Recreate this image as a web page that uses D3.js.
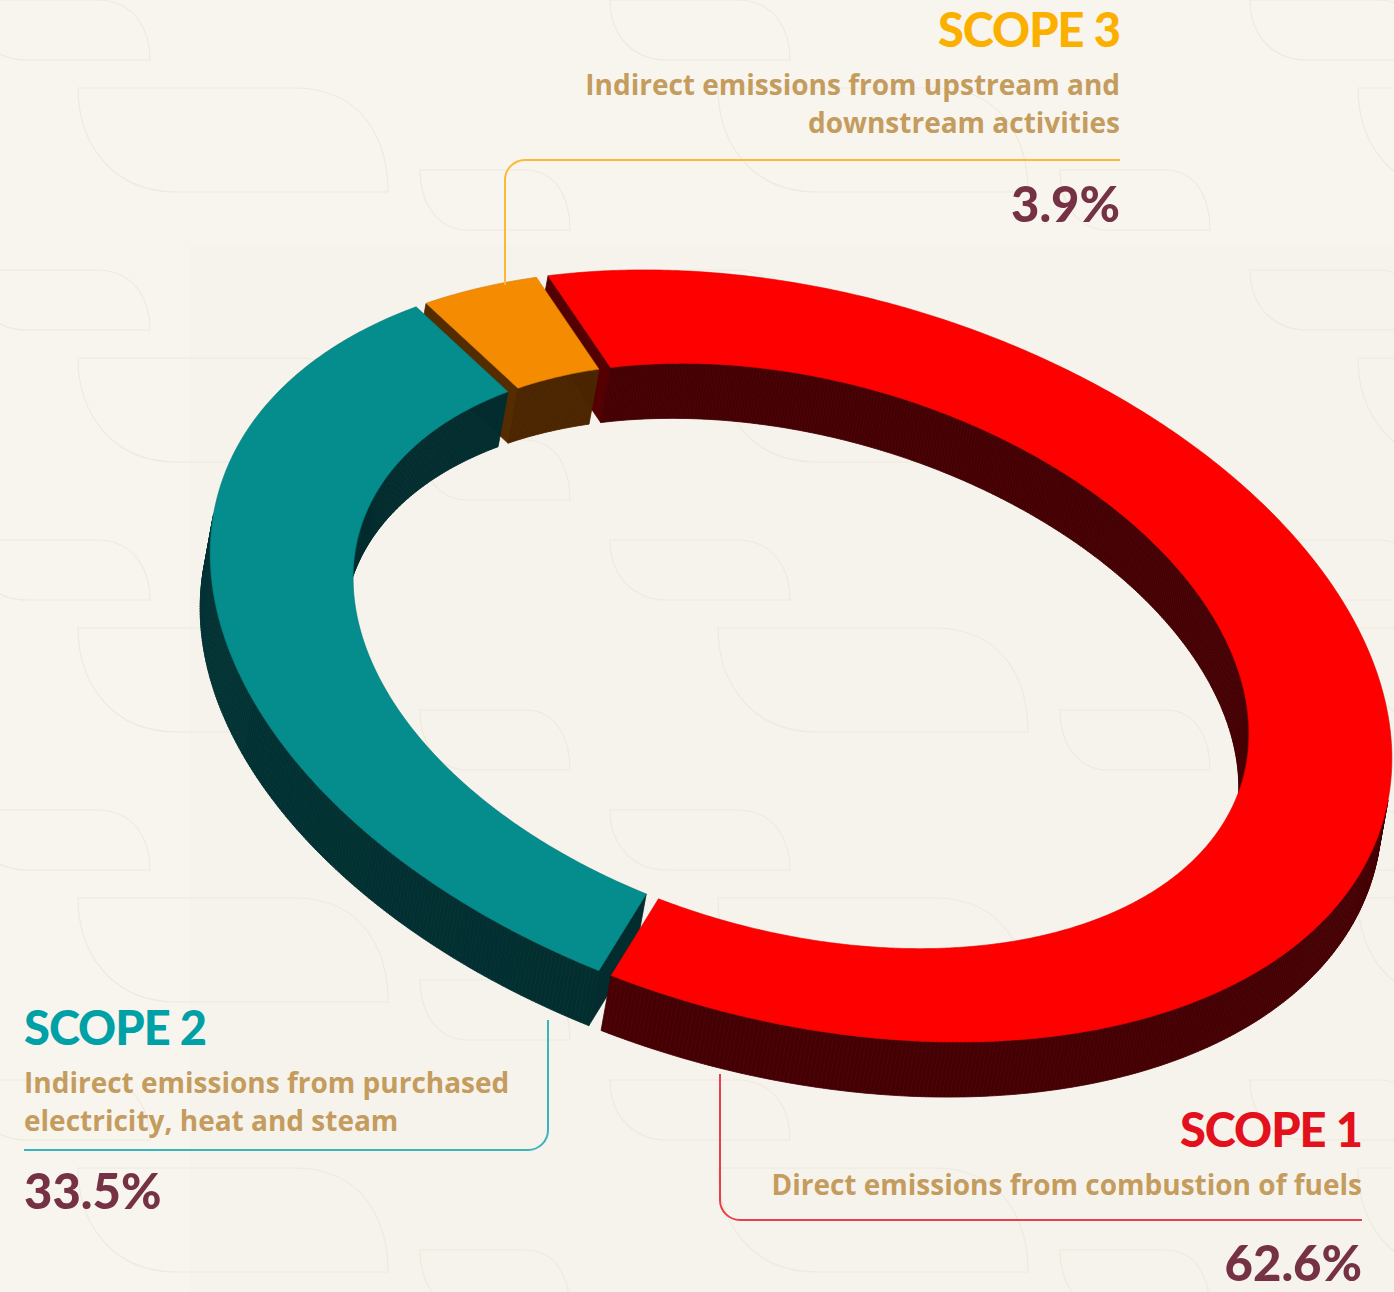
<!DOCTYPE html>
<html lang="en">
<head>
  <meta charset="UTF-8">
  <title>Emissions by scope</title>
  <script src="https://d3js.org/d3.v7.min.js"></script>
  <style>
    body {
      margin: 0;
      padding: 0;
      background: #f8f5ef;
    }

    svg {
      display: block;
    }

    .head, .pct {
      font-family: Lato, "Open Sans", sans-serif;
      font-weight: 900;
    }

    .desc {
      font-family: "Open Sans", Lato, sans-serif;
      font-weight: 700;
    }
  </style>
</head>
<body>
  <svg id="chart" width="1394" height="1292"></svg>

  <script>
    const scopes = ["SCOPE 1", "SCOPE 2", "SCOPE 3"];
    const shares = [62.6, 33.5, 3.9];
    const descriptions = [
      ["Direct emissions from combustion of fuels"],
      ["Indirect emissions from purchased", "electricity, heat and steam"],
      ["Indirect emissions from upstream and", "downstream activities"]
    ];
    const ringColors = ["#fe0000", "#058c8c", "#f58b00"];
    const sideColors = ["#450004", "#022c2e", "#4b2500"];
    const labelColors = ["#e3111c", "#00a0a7", "#fbb000"];
    const lineColors = ["#e8404a", "#3bb3bb", "#fdb835"];

    const svg = d3.select("#chart");

    // background texture
    const defs = svg.append("defs");
    const pat = defs.append("pattern")
      .attr("id", "leaves")
      .attr("patternUnits", "userSpaceOnUse")
      .attr("width", 640).attr("height", 270)
      .attr("x", -50).attr("y", -10);

    function leaf(x, y, w, h) {
      return `M${x},${y}H${x + w * 0.7}C${x + w * 0.93},${y} ${x + w},${y + h * 0.55} ${x + w},${y + h}` +
        `H${x + w * 0.32}C${x + w * 0.1},${y + h} ${x},${y + h * 0.5} ${x},${y}Z`;
    }
    pat.append("path").attr("d", leaf(128, 98, 310, 104));
    pat.append("path").attr("d", leaf(470, 180, 150, 60));
    pat.append("path").attr("d", leaf(20, 10, 180, 60));
    pat.selectAll("path").attr("fill", "none").attr("stroke", "#f0e9dc").attr("stroke-width", 1.2);

    svg.append("rect").attr("width", 1394).attr("height", 1292).attr("fill", "#f8f5ef");
    svg.append("rect").attr("x", 190).attr("y", 245).attr("width", 1204).attr("height", 1047).attr("fill", "#f6f3ec");
    svg.append("rect").attr("width", 1394).attr("height", 1292).attr("fill", "url(#leaves)");

    // tilted, extruded ring
    const cx = 801, cy = 656, ax = 605, by = 363.5;
    const tilt = 15.6 * Math.PI / 180;
    const inner = 0.758;
    const depth = [-10, 55];
    const halfGap = 0.011;
    const start = 234.5 * Math.PI / 180;

    function project(rho, t, d) {
      const x = rho * ax * Math.cos(t), y = rho * by * Math.sin(t);
      return [cx + x * Math.cos(tilt) - y * Math.sin(tilt) + d * depth[0],
              cy + x * Math.sin(tilt) + y * Math.cos(tilt) + d * depth[1]];
    }

    function area(pts) {
      let s = 0;
      pts.forEach((p, i) => {
        const q = pts[(i + 1) % pts.length];
        s += p[0] * q[1] - q[0] * p[1];
      });
      return s / 2;
    }

    const pie = d3.pie().sort(null)
      .startAngle(start)
      .endAngle(start + 2 * Math.PI);
    const arcs = pie(shares).map((a, i) => ({ ...a, i }));

    const refSign = Math.sign(area([
      project(1, 1.56, 0), project(1, 1.58, 0), project(1, 1.58, 1), project(1, 1.56, 1)
    ]));

    const light = [-0.95, -0.3];
    function shade(i, n, amount) {
      const len = Math.hypot(n[0], n[1]) || 1;
      const f = Math.max(0, (n[0] * light[0] + n[1] * light[1]) / len);
      return d3.interpolateRgb(sideColors[i], d3.color(ringColors[i]).darker(2.2))(f * amount);
    }

    const faces = [];
    const tops = [];
    const step = 0.4 * Math.PI / 180;

    function angles(t0, t1) {
      const n = Math.max(1, Math.ceil((t1 - t0) / step));
      return d3.range(n + 1).map(k => t0 + (t1 - t0) * k / n);
    }

    arcs.forEach(a => {
      const t0o = a.startAngle + Math.asin(halfGap / 1);
      const t1o = a.endAngle - Math.asin(halfGap / 1);
      const t0i = a.startAngle + Math.asin(halfGap / inner);
      const t1i = a.endAngle - Math.asin(halfGap / inner);
      const outerT = angles(t0o, t1o);
      const innerT = angles(t0i, t1i);

      // outer wall
      d3.pairs(outerT).forEach(([u, v]) => {
        const m = (u + v) / 2;
        const p1 = project(1, m, 0), p0 = project(inner, m, 0);
        faces.push({
          pts: [project(1, u, 0), project(1, v, 0), project(1, v, 1), project(1, u, 1)],
          i: a.i, n: [p1[0] - p0[0], p1[1] - p0[1]], amount: 0.3
        });
      });
      // inner wall
      d3.pairs(innerT).forEach(([u, v]) => {
        faces.push({
          pts: [project(inner, v, 0), project(inner, u, 0), project(inner, u, 1), project(inner, v, 1)],
          i: a.i, n: [0, 0], amount: 0
        });
      });
      // end caps
      const s0 = project(0.88, a.startAngle, 0), s1 = project(0.88, a.startAngle + 0.01, 0);
      faces.push({
        pts: [project(inner, t0i, 0), project(1, t0o, 0), project(1, t0o, 1), project(inner, t0i, 1)],
        i: a.i, n: [s0[0] - s1[0], s0[1] - s1[1]], amount: 0.35
      });
      const e0 = project(0.88, a.endAngle, 0), e1 = project(0.88, a.endAngle - 0.01, 0);
      faces.push({
        pts: [project(1, t1o, 0), project(inner, t1i, 0), project(inner, t1i, 1), project(1, t1o, 1)],
        i: a.i, n: [e0[0] - e1[0], e0[1] - e1[1]], amount: 0.35
      });

      tops.push({
        i: a.i,
        pts: outerT.map(t => project(1, t, 0)).concat(innerT.slice().reverse().map(t => project(inner, t, 0)))
      });
    });

    const visible = faces.filter(f => Math.sign(area(f.pts)) === refSign)
      .sort((p, q) => d3.mean(p.pts, d => d[1]) - d3.mean(q.pts, d => d[1]));

    const ring = svg.append("g");
    ring.selectAll("path.side")
      .data(visible)
      .join("path")
      .attr("class", "side")
      .attr("d", d => "M" + d.pts.join("L") + "Z")
      .attr("fill", d => shade(d.i, d.n, d.amount))
      .attr("stroke", d => shade(d.i, d.n, d.amount))
      .attr("stroke-width", 0.8)
      .attr("stroke-linejoin", "round");

    ring.selectAll("path.top")
      .data(tops)
      .join("path")
      .attr("class", "top")
      .attr("d", d => "M" + d.pts.join("L") + "Z")
      .attr("fill", d => ringColors[d.i])
      .attr("stroke", d => d3.color(ringColors[d.i]).darker(0.4))
      .attr("stroke-width", 0.6);

    // labels
    const labels = [
      { anchor: "end", x: 1362, y: 1147, pct: 1281,
        line: "M1362,1220H740A20,20 0 0 1 720,1200V1074" },
      { anchor: "start", x: 24, y: 1045, pct: 1209,
        line: "M24,1150H528A20,20 0 0 0 548,1130V1020" },
      { anchor: "end", x: 1120, y: 47, pct: 222,
        line: "M1120,160H525A20,20 0 0 0 505,180V285" }
    ];

    const lab = svg.append("g");
    labels.forEach((l, i) => {
      lab.append("path")
        .attr("d", l.line)
        .attr("fill", "none")
        .attr("stroke", lineColors[i])
        .attr("stroke-width", 2);

      lab.append("text")
        .attr("class", "head")
        .attr("x", l.x).attr("y", l.y)
        .attr("text-anchor", l.anchor)
        .attr("fill", labelColors[i])
        .attr("font-size", 47)
        .attr("letter-spacing", -1)
        .text(scopes[i]);

      descriptions[i].forEach((line, k) => {
        lab.append("text")
          .attr("class", "desc")
          .attr("x", l.x).attr("y", l.y + 48 + k * 38)
          .attr("text-anchor", l.anchor)
          .attr("fill", "#c49c5e")
          .attr("font-size", 28)
          .text(line);
      });

      lab.append("text")
        .attr("class", "pct")
        .attr("x", l.x).attr("y", l.pct)
        .attr("text-anchor", l.anchor)
        .attr("fill", "#763245")
        .attr("font-size", 49)
        .text(shares[i].toFixed(1) + "%");
    });
  </script>
</body>
</html>
